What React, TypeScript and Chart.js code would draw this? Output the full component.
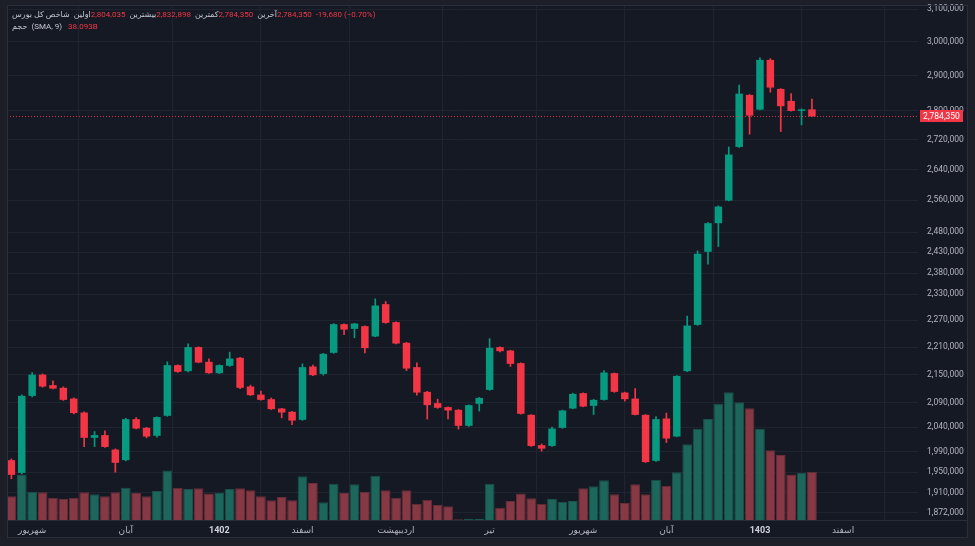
import { useEffect, useRef } from "react"
import { Chart, registerables } from "chart.js"

Chart.register(...registerables)

// weekly candles, index 0..77
const opens = [
  1973500, 1948500, 2104700, 2150000, 2127400, 2121700, 2099000, 2069900, 2018100, 2023600,
  1994500, 1973500, 2056200, 2038400, 2022200, 2063100, 2170500, 2157400, 2210000, 2177700,
  2153100, 2169000, 2186500, 2124500, 2107400, 2097700, 2078200, 2071400, 2054800, 2167500,
  2151500, 2197400, 2261400, 2250700, 2256800, 2233600, 2307200, 2266000, 2219600, 2166100,
  2113200, 2089400, 2081100, 2075500, 2042500, 2088000, 2117400, 2210000, 2202400, 2174800,
  2065100, 2003300, 2001800, 2038400, 2078200, 2110400, 2083800, 2096300, 2153100, 2111700,
  2099000, 2065100, 1972100, 2057500, 2020700, 2157400, 2259800, 2431300, 2502000, 2559300,
  2700500, 2844900, 2803400, 2946500, 2862100, 2827900, 2799700, 2804035,
]
const highs = [
  1976000, 2106800, 2154400, 2151500, 2136600, 2123800, 2100400, 2071400, 2030900, 2032400,
  1995900, 2057900, 2059500, 2039400, 2061000, 2177700, 2171200, 2217300, 2210700, 2184300,
  2171200, 2198900, 2187600, 2127400, 2114700, 2100400, 2078600, 2072400, 2173300, 2170500,
  2196300, 2262600, 2262100, 2263200, 2257500, 2319500, 2313500, 2266700, 2220700, 2175500,
  2114300, 2097700, 2081700, 2076100, 2085900, 2101500, 2229000, 2210700, 2203300, 2175500,
  2065700, 2005900, 2039800, 2074900, 2110400, 2111100, 2097300, 2158700, 2153700, 2112600,
  2120200, 2065700, 2061600, 2068700, 2147900, 2279700, 2433700, 2503500, 2545700, 2700500,
  2872800, 2846300, 2952400, 2950300, 2863000, 2848600, 2805400, 2832898,
]
const lows = [
  1937000, 1946500, 2102600, 2123000, 2119600, 2095200, 2067200, 2000400, 2000400, 1998800,
  1949800, 1972100, 2036400, 2018100, 2019500, 2062000, 2154800, 2155900, 2175500, 2152600,
  2152200, 2167900, 2120200, 2105300, 2095600, 2076100, 2058900, 2045100, 2053700, 2147900,
  2148700, 2196300, 2238000, 2230700, 2197400, 2232900, 2263200, 2217300, 2158700, 2106200,
  2056200, 2078600, 2056800, 2035800, 2041500, 2072800, 2116400, 2199600, 2167500, 2066600,
  2000800, 1991300, 2000800, 2037400, 2077600, 2081700, 2065700, 2095600, 2112100, 2093600,
  2064700, 1968800, 1971100, 2008600, 2020100, 2156500, 2258700, 2401500, 2444200, 2558500,
  2699200, 2735200, 2802500, 2852600, 2742400, 2798900, 2760800, 2784350,
]
const closes = [
  1944600, 2104700, 2150000, 2124500, 2120200, 2096300, 2068700, 2018100, 2023600, 1999800,
  1968200, 2056200, 2037000, 2020700, 2060400, 2170500, 2155900, 2210000, 2176200, 2153100,
  2170500, 2184900, 2121700, 2106200, 2096300, 2076900, 2069900, 2053300, 2166100, 2148700,
  2195200, 2261400, 2249100, 2262800, 2207800, 2304000, 2264400, 2218000, 2163100, 2111700,
  2085300, 2079700, 2074100, 2042500, 2085300, 2100400, 2208400, 2201100, 2173300, 2067200,
  2001800, 1996400, 2037000, 2074100, 2108900, 2082400, 2096300, 2154400, 2113200, 2097700,
  2065100, 1969600, 2056200, 2016700, 2147200, 2258200, 2426500, 2502000, 2544000, 2680000,
  2848600, 2786700, 2946500, 2865900, 2813000, 2799700, 2804030, 2784350,
]
// volume, billions
const volumes = [
  11.2, 21.6, 13.4, 13.1, 10.6, 9.9, 10.6, 13.1, 12.2, 11.2,
  13.1, 15.3, 12.8, 11.2, 13.7, 23.5, 15.3, 14.7, 15.0, 12.5,
  12.8, 14.7, 15.0, 14.1, 11.2, 9.3, 10.9, 9.3, 20.7, 17.5,
  8.4, 17.2, 12.8, 16.9, 13.4, 21.0, 14.1, 10.6, 14.1, 7.7,
  9.6, 7.1, 6.5, 0.3, 0.6, 0.6, 17.2, 5.8, 9.0, 12.5,
  10.3, 7.7, 9.9, 8.7, 9.0, 15.0, 16.0, 18.8, 12.2, 8.1,
  16.9, 12.2, 19.1, 16.2, 22.6, 35.9, 43.1, 47.8, 55.1, 60.5,
  55.8, 52.9, 43.1, 33.0, 30.8, 21.6, 22.3, 22.9,
]

const tickIndex = [2, 11, 20, 28, 37, 46, 55, 63, 72, 80]
const tickText = ["شهریور", "آبان", "1402", "اسفند", "اردیبهشت", "تیر", "شهریور", "آبان", "1403", "اسفند"]
const priceTicks = [
  3100000, 3000000, 2900000, 2800000, 2720000, 2640000, 2560000, 2480000, 2430000, 2380000,
  2330000, 2270000, 2210000, 2150000, 2090000, 2040000, 1990000, 1950000, 1910000, 1872000,
]

const lastPrice = 2784350
const legendTitle = "شاخص کل بورس"
const legendItems = [
  { label: "اولین", value: "2,804,035" },
  { label: "بیشترین", value: "2,832,898" },
  { label: "کمترین", value: "2,784,350" },
  { label: "آخرین", value: "2,784,350" },
]
const legendChange = "-19,680 (−0.70%)"
const volumeLabel = "حجم"
const volumeSma = "38.093B"

const UP = "#089981"
const DOWN = "#f23645"
const FONT = "Roboto, 'DejaVu Sans', sans-serif"

const fmt = (v: number) => v.toLocaleString("en-US")
const isYear = (s: string | undefined) => /^\d+$/.test(s ?? "")

const framePlugin = {
  id: "frame",
  beforeDraw(chart: Chart) {
    const { ctx, width, height } = chart
    ctx.save()
    ctx.fillStyle = "#1c1f28"
    ctx.fillRect(0, 0, width, height)
    ctx.fillStyle = "#151924"
    ctx.fillRect(7, 5, 961, 533)
    ctx.restore()
  },
  afterDatasetsDraw(chart: Chart) {
    const { ctx, chartArea } = chart
    const y = Math.round(chart.scales.y.getPixelForValue(lastPrice)) + 0.5
    ctx.save()
    ctx.strokeStyle = "rgba(242,54,69,0.85)"
    ctx.lineWidth = 1
    ctx.setLineDash([1, 2])
    ctx.beginPath()
    ctx.moveTo(chartArea.left, y)
    ctx.lineTo(chartArea.right, y)
    ctx.stroke()
    ctx.restore()
  },
  afterDraw(chart: Chart) {
    const { ctx, chartArea } = chart
    ctx.save()
    ctx.strokeStyle = "#2a2e39"
    ctx.lineWidth = 1
    ctx.strokeRect(7.5, 5.5, 960, 532)
    ctx.beginPath()
    ctx.moveTo(7, Math.round(chartArea.bottom) + 0.5)
    ctx.lineTo(968, Math.round(chartArea.bottom) + 0.5)
    ctx.stroke()
    const y = Math.round(chart.scales.y.getPixelForValue(lastPrice))
    ctx.fillStyle = DOWN
    ctx.fillRect(920, y - 6, 43, 12)
    ctx.fillStyle = "#ffffff"
    ctx.font = "8.5px " + FONT
    ctx.textAlign = "center"
    ctx.textBaseline = "middle"
    ctx.fillText(fmt(lastPrice), 941.5, y + 0.5)
    ctx.restore()
  },
}

function CandleChart() {
  const canvasRef = useRef<HTMLCanvasElement>(null)
  const chartRef = useRef<Chart | null>(null)

  useEffect(() => {
    if (!canvasRef.current) return
    if (chartRef.current) chartRef.current.destroy()

    const up = closes.map((c, i) => c >= opens[i])

    chartRef.current = new Chart(canvasRef.current, {
      type: "bar",
      data: {
        datasets: [
          {
            label: "volume",
            yAxisID: "yv",
            data: volumes.map((v, i) => ({ x: i, y: v })),
            backgroundColor: up.map((u) => (u ? "#1d665c" : "#863944")),
            borderColor: up.map((u) => (u ? "#18514b" : "#682d36")),
            borderWidth: 1,
            borderSkipped: "bottom",
            categoryPercentage: 1,
            barPercentage: 0.94,
            grouped: false,
            order: 5,
          },
          {
            label: "wick",
            yAxisID: "y",
            data: highs.map((h, i) => ({ x: i, y: [lows[i], h] })),
            backgroundColor: up.map((u) => (u ? UP : DOWN)),
            barThickness: 1,
            grouped: false,
            order: 3,
          },
          {
            label: "body",
            yAxisID: "y",
            data: closes.map((c, i) => ({ x: i, y: [opens[i], c] })),
            backgroundColor: up.map((u) => (u ? UP : DOWN)),
            categoryPercentage: 1,
            barPercentage: 0.72,
            minBarLength: 1,
            grouped: false,
            order: 1,
          },
        ] as any,
      },
      options: {
        responsive: true,
        maintainAspectRatio: false,
        animation: false,
        layout: { padding: { left: 7, top: 5, right: 7, bottom: 8 } },
        plugins: {
          legend: { display: false },
          tooltip: { enabled: false },
        },
        scales: {
          x: {
            type: "linear",
            min: -0.42,
            max: 87.2,
            offset: false,
            afterBuildTicks: (scale: any) => {
              scale.ticks = tickIndex.map((v) => ({ value: v }))
            },
            afterFit: (scale: any) => {
              scale.height = 18
              scale.paddingLeft = 0
              scale.paddingRight = 0
            },
            border: { display: false },
            grid: { color: "#1f2430", drawTicks: false },
            ticks: {
              autoSkip: false,
              maxRotation: 0,
              padding: 5,
              callback: (v: any) => tickText[tickIndex.indexOf(Number(v))] ?? "",
              color: (c: any) => (isYear(tickText[c.index]) ? "#d1d4dc" : "#b2b5be"),
              font: (c: any) => ({
                family: FONT,
                size: 9,
                weight: isYear(tickText[c.index]) ? "bold" : "normal",
              }),
            },
          },
          y: {
            type: "logarithmic",
            position: "right",
            min: 1858700,
            max: 3113000,
            afterBuildTicks: (scale: any) => {
              scale.ticks = priceTicks.map((v) => ({ value: v }))
            },
            afterFit: (scale: any) => {
              scale.width = 50
              scale.paddingTop = 0
              scale.paddingBottom = 0
            },
            border: { display: false },
            grid: { color: "#1f2430", drawTicks: false },
            ticks: {
              autoSkip: false,
              padding: 9,
              color: "#b2b5be",
              font: { family: FONT, size: 8.5 },
              callback: (v: any) => fmt(Number(v)),
            },
          },
          yv: {
            type: "linear",
            display: false,
            min: 0,
            max: 244,
          },
        },
      } as any,
      plugins: [framePlugin],
    })

    return () => {
      if (chartRef.current) {
        chartRef.current.destroy()
        chartRef.current = null
      }
    }
  }, [])

  return <canvas ref={canvasRef} />
}

export default function App() {
  const label = { color: "#c3c6ce" }
  const value = { color: DOWN }
  return (
    <div style={{ position: "absolute", left: 0, top: 0, width: 975, height: 546, background: "#151924" }}>
      <CandleChart />
      <div
        style={{
          position: "absolute",
          left: 12,
          top: 9,
          fontFamily: FONT,
          fontSize: 8,
          lineHeight: "12px",
          pointerEvents: "none",
        }}
      >
        <div style={{ display: "flex", gap: 4, whiteSpace: "nowrap" }}>
          <span dir="rtl" style={label}>{legendTitle}</span>
          {legendItems.map((it) => (
            <span key={it.label} style={{ display: "flex" }}>
              <span dir="rtl" style={label}>{it.label}</span>
              <span style={value}>{it.value}</span>
            </span>
          ))}
          <span style={value}>{legendChange}</span>
        </div>
        <div style={{ display: "flex", gap: 4, whiteSpace: "nowrap" }}>
          <span dir="rtl" style={label}>{volumeLabel}</span>
          <span style={label}>(SMA, 9)</span>
          <span style={{ ...value, marginLeft: 2 }}>{volumeSma}</span>
        </div>
      </div>
    </div>
  )
}
